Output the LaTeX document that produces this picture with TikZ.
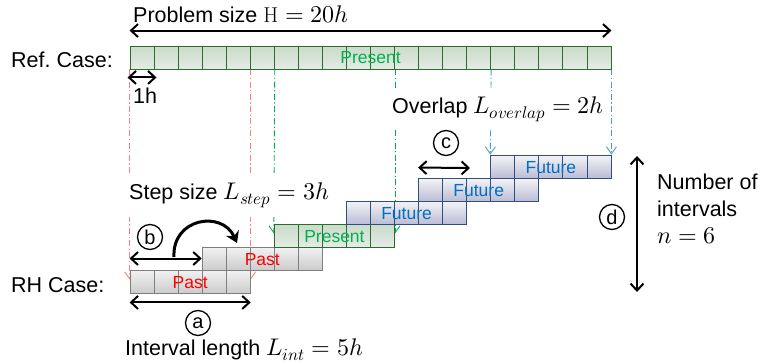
\documentclass[tikz,border=0pt]{standalone}
\usepackage{fontspec}
\usepackage{unicode-math}
\setsansfont{Liberation Sans}
\setmathfont{latinmodern-math.otf}[Scale=1.12]
\usetikzlibrary{arrows.meta,backgrounds,positioning}
\definecolor{pastedge}{HTML}{7F7F7F}
\definecolor{presedge}{HTML}{2A6E2A}
\definecolor{futedge}{HTML}{2F4E82}
\definecolor{pastred}{HTML}{FF0000}
\definecolor{presgreen}{HTML}{00B050}
\definecolor{futblue}{HTML}{0070C0}
\definecolor{guidered}{HTML}{FF7F7F}
\definecolor{guideblue}{HTML}{4A9AD8}
\newcommand{\cellw}{24.05}
\frenchspacing
\tikzset{
  lbl/.style={font=\sffamily\fontsize{21.5}{27}\selectfont, inner sep=0pt},
  cell/.style={draw, line width=0.9pt, minimum width=\cellw pt, minimum height=23pt, inner sep=0pt},
  past cell/.style={draw=pastedge, top color=gray!10, bottom color=gray!40},
  pres cell/.style={draw=presedge, top color=green!20!gray!35, bottom color=green!10!gray!18},
  fut cell/.style={draw=futedge, top color=blue!4!gray!8, bottom color=blue!25!gray!42},
  past txt/.style={text=pastred, font=\sffamily\fontsize{17.5}{20}\selectfont, inner sep=0pt},
  pres txt/.style={text=presgreen, font=\sffamily\fontsize{17.5}{20}\selectfont, inner sep=0pt},
  fut txt/.style={text=futblue, font=\sffamily\fontsize{17.5}{20}\selectfont, inner sep=0pt},
  guide/.style={line width=0.9pt, dash pattern=on 6pt off 2.5pt on 1.2pt off 2.5pt, -{Straight Barb[length=7pt,width=10pt]}},
  dimarrow/.style={line width=2pt, {Straight Barb[length=7pt,width=13pt]}-{Straight Barb[length=7pt,width=13pt]}},
  bendarrow/.style={line width=3pt, -{Stealth[length=11pt,width=14pt]}},
  mark circ/.style={draw, circle, line width=1.3pt, minimum size=25pt, inner sep=0pt, font=\sffamily\fontsize{20}{20}\selectfont}
}
\begin{document}
\begin{tikzpicture}[x=1pt,y=-1pt]
\useasboundingbox (0,0) rectangle (764,364);
% reference case: one bar of 20 steps
\foreach \i in {1,...,20}
  \node[cell,pres cell] (ref\i) at ({130+(\i-0.5)*\cellw},57.5) {};
\node[pres txt] (reflab) at ({130+10*\cellw},57.5) {Present};

% receding horizon: six intervals of 5 steps, shifted by 3
\foreach \k/\kind/\lab in {0/past/Past,1/past/Past,2/pres/Present,3/fut/Future,4/fut/Future,5/fut/Future}{
  \foreach \j in {1,...,5}
    \node[cell,\kind\space cell] (iv\k-\j) at ({130+(3*\k+\j-0.5)*\cellw},{281.5-23*\k}) {};
  \node[\kind\space txt] (ivlab\k) at ({130+(3*\k+2.5)*\cellw},{282.5-23*\k}) {\lab};
}

% guide lines
\begin{scope}[on background layer]
  \draw[guide,guidered] (ref1.south west) -- ([yshift=-10pt]iv0-1.north west);
  \draw[guide,guidered] (ref5.south east) -- ([yshift=-10pt]iv0-5.north east);
  \draw[guide,presgreen] (ref6.south east) -- ([yshift=-10pt]iv2-1.north west);
  \draw[guide,presgreen] (ref11.south east) -- ([yshift=-10pt]iv2-5.north east);
  \draw[guide,guideblue] (ref15.south east) -- (iv5-1.north west);
  \draw[guide,guideblue] (ref20.south east) -- (iv5-5.north east);
\end{scope}

% labels
\node[lbl,anchor=base west] (probtxt) at (133,23) {Problem size $\mathrm{H}=20h$};
\node[lbl,anchor=base west] (refcase) at (11,67) {Ref. Case:};
\node[lbl,anchor=base west] (rhcase) at (11,292) {RH Case:};
\node[lbl,anchor=base west] (onehtxt) at (133,103) {1h};
\node[lbl,anchor=base west,fill=white,inner xsep=8pt,inner ysep=8pt] (overtxt) at (384,113) {Overlap $L_{overlap}=2h$};
\node[lbl,anchor=base west,fill=white,inner xsep=4pt,inner ysep=9pt] (steptxt) at (125,199) {Step size $L_{step}=3h$};
\node[lbl,anchor=base west] (inttxt) at (125,355) {Interval length $L_{int}=5h$};
\node[lbl,anchor=north west,align=left] (numtxt) at (657,174) {Number of\\intervals\\$n=6$};

% dimension arrows
\draw[dimarrow] ([yshift=15pt]ref1.north west) -- ([yshift=15pt]ref20.north east);
\draw[dimarrow] ([yshift=-8pt,xshift=-2pt]ref1.south west) -- ([yshift=-8pt,xshift=2pt]ref1.south east);
\draw[dimarrow] ([yshift=-9pt]iv0-1.south west) -- ([yshift=-9pt]iv0-5.south east);
\draw[dimarrow] (iv0-1.north west |- iv1-1.west) -- (iv1-1.west);
\coordinate (cR) at (470,168);
\draw[dimarrow] ([yshift=10pt]iv4-1.north west) -- (cR);
\coordinate (dT) at (637,156);
\coordinate (dB) at (637,292);
\draw[dimarrow] (dT) -- (dB);

% step jump
\coordinate (bendS) at (174,257);
\coordinate (bendE) at (237,243);
\draw[bendarrow] (bendS) .. controls (172,218) and (222,210) .. (bendE);

% circled marks
\node[mark circ] (marka) at (198,323) {a};
\node[mark circ] (markb) at (150,237) {b};
\node[mark circ] (markc) at (446,143) {c};
\node[mark circ] (markd) at (612,217) {d};
\end{tikzpicture}
\end{document}
